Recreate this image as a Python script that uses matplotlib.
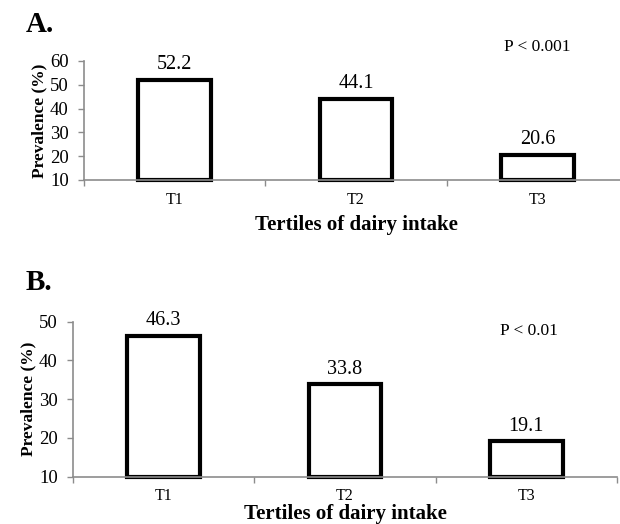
import numpy as np
import matplotlib
matplotlib.use("Agg")
import matplotlib.pyplot as plt

plt.rcParams["font.family"] = ["Liberation Serif", "DejaVu Serif"]

# ── Data ──
tertiles = ["T1", "T2", "T3"]
prev_a = [52.2, 44.1, 20.6]
prev_b = [46.3, 33.8, 19.1]
p_text_a = "P < 0.001"
p_text_b = "P < 0.01"
ylim_a = (10, 60)
ylim_b = (10, 50)

GREY = "#8c8c8c"

fig = plt.figure(figsize=(6.2, 5.24), dpi=100)
ax_a = fig.add_axes([0.1355, 0.6565, 0.8775, 0.2271])
ax_b = fig.add_axes([0.1177, 0.0903, 0.8775, 0.2958])


def draw_panel(ax, vals, ylim, ptxt, p_xy, letter, letter_y):
    x = np.arange(len(vals))
    base = ylim[0]
    ax.bar(x, np.array(vals) - base, bottom=base, width=0.4,
           facecolor="white", edgecolor="black", linewidth=3.0,
           clip_on=False, zorder=2)
    for xi, v in zip(x, vals):
        ax.annotate(f"{v:.1f}", (xi, v), xytext=(0, 4),
                    textcoords="offset points", ha="center", va="bottom",
                    fontsize=14.5)
    ax.set_xlim(-0.5, len(vals) - 0.5)
    ax.set_ylim(*ylim)
    ax.set_yticks(np.arange(ylim[0], ylim[1] + 1, 10))
    ax.set_xticks(x)
    ax.set_xticklabels(tertiles, fontsize=11.5)
    ax.set_xticks(np.arange(-0.5, len(vals)), minor=True)
    ax.tick_params(axis="x", which="major", length=0, pad=9)
    ax.tick_params(axis="x", which="minor", length=4, color=GREY, width=1)
    ax.tick_params(axis="y", length=4, color=GREY, width=1,
                   labelsize=13.5, pad=7)
    for s in ["top", "right"]:
        ax.spines[s].set_visible(False)
    for s in ["left", "bottom"]:
        ax.spines[s].set_color(GREY)
        ax.spines[s].set_linewidth(1.2)
        ax.spines[s].set_zorder(3)
    ax.set_ylabel("Prevalence (%)", fontsize=12.5, fontweight="bold",
                  labelpad=2)
    ax.text(p_xy[0], p_xy[1], ptxt, transform=fig.transFigure,
            ha="left", va="center", fontsize=12.5)
    fig.text(0.042, letter_y, letter, ha="left", va="center",
             fontsize=21, fontweight="bold")


draw_panel(ax_a, prev_a, ylim_a, p_text_a, (504 / 620, 1 - 47 / 524),
           "A.", 1 - 24 / 524)
ax_a.set_xlabel("Tertiles of dairy intake", fontsize=15, fontweight="bold",
                labelpad=5)

draw_panel(ax_b, prev_b, ylim_b, p_text_b, (500 / 620, 1 - 331 / 524),
           "B.", 1 - 283 / 524)
ax_b.set_xlabel("Tertiles of dairy intake", fontsize=15, fontweight="bold",
                labelpad=0.5)
ax_b.tick_params(axis="x", which="major", pad=8)

plt.savefig("out.png", dpi=100)
